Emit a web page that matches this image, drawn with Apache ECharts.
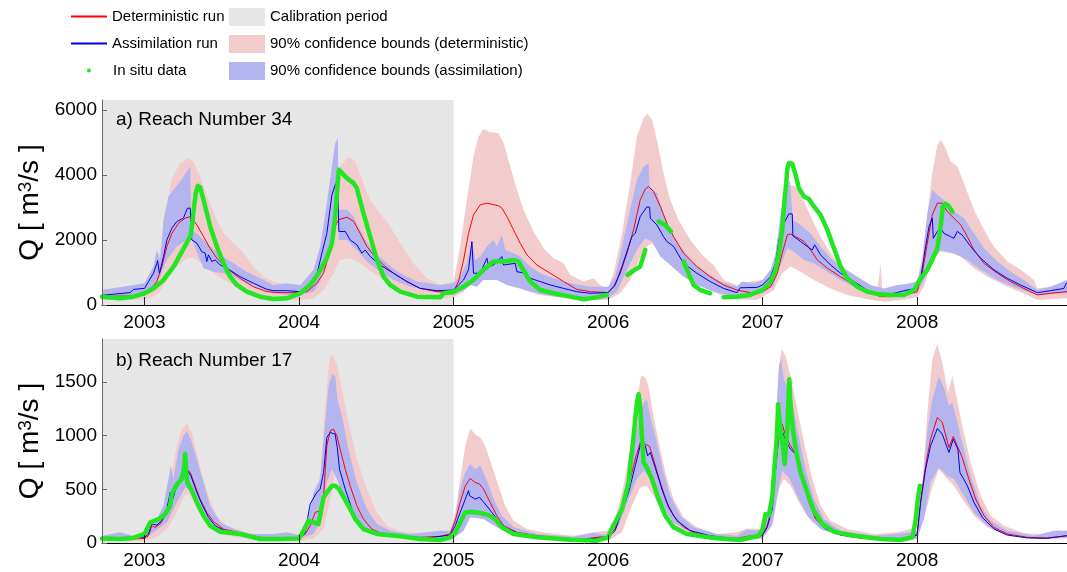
<!DOCTYPE html>
<html>
<head>
<meta charset="utf-8">
<script src="https://cdn.jsdelivr.net/npm/echarts@6/dist/echarts.min.js"></script>
<style>
html, body { margin: 0; padding: 0; background: #fff; }
#chart { width: 1067px; height: 572px; }
</style>
</head>
<body>
<div id="chart"></div>
<script>
// time axis in decimal years, discharge in m3/s
var yearTicks = [2003, 2004, 2005, 2006, 2007, 2008];
var qTicksA = [0, 2000, 4000, 6000];
var qTicksB = [0, 500, 1000, 1500];

/* a) Reach Number 34 */
var detA = [[2002.725,260],[2002.9,280],[2003.0,300],[2003.037,460],[2003.08,720],[2003.112,1180],[2003.145,1800],[2003.177,2200],[2003.22,2510],[2003.263,2670],[2003.3,2720],[2003.339,2460],[2003.382,2100],[2003.425,1740],[2003.468,1440],[2003.533,1130],[2003.619,820],[2003.705,560],[2003.792,410],[2003.878,380],[2003.964,380],[2004.051,410],[2004.115,670],[2004.159,975],[2004.202,1690],[2004.234,2410],[2004.256,2620],[2004.31,2700],[2004.353,2570],[2004.396,2200],[2004.439,1800],[2004.482,1540],[2004.547,1230],[2004.612,975],[2004.698,720],[2004.784,510],[2004.892,410],[2005.0,410],[2005.032,720],[2005.065,1385],[2005.097,2200],[2005.129,2770],[2005.173,3080],[2005.216,3130],[2005.291,3050],[2005.313,2975],[2005.345,2720],[2005.388,2310],[2005.431,1900],[2005.475,1540],[2005.539,1230],[2005.626,975],[2005.712,720],[2005.798,480],[2005.885,410],[2006.0,380],[2006.036,560],[2006.079,975],[2006.122,1590],[2006.165,2310],[2006.208,3230],[2006.241,3560],[2006.262,3640],[2006.294,3490],[2006.338,3030],[2006.381,2510],[2006.424,2100],[2006.489,1590],[2006.575,1180],[2006.661,870],[2006.748,615],[2006.834,460],[2006.922,380],[2007.0,410],[2007.052,560],[2007.095,975],[2007.127,1590],[2007.16,2150],[2007.181,2185],[2007.214,2100],[2007.268,1950],[2007.311,1690],[2007.354,1385],[2007.419,1130],[2007.505,870],[2007.591,615],[2007.677,410],[2007.764,256],[2007.828,256],[2007.915,310],[2008.0,410],[2008.033,975],[2008.066,1900],[2008.098,2770],[2008.131,3130],[2008.163,3130],[2008.195,2870],[2008.238,2670],[2008.282,2460],[2008.325,2100],[2008.368,1690],[2008.433,1280],[2008.519,975],[2008.605,720],[2008.691,510],[2008.778,310],[2008.864,360],[2008.97,410]];
var asmA = [[2002.725,300],[2002.907,380],[2002.929,480],[2003.0,510],[2003.026,720],[2003.058,975],[2003.08,1280],[2003.084,1365],[2003.097,975],[2003.123,1490],[2003.145,2000],[2003.177,2360],[2003.209,2565],[2003.252,2670],[2003.278,2975],[2003.296,2975],[2003.306,2000],[2003.339,1900],[2003.371,1640],[2003.393,1590],[2003.403,1335],[2003.414,1540],[2003.436,1335],[2003.457,1385],[2003.49,1230],[2003.533,1130],[2003.619,870],[2003.705,670],[2003.792,480],[2003.835,440],[2003.921,440],[2004.008,410],[2004.072,560],[2004.115,925],[2004.148,1590],[2004.18,2200],[2004.213,3385],[2004.234,3690],[2004.249,3800],[2004.258,2260],[2004.299,2260],[2004.331,2000],[2004.374,1850],[2004.407,1590],[2004.428,1690],[2004.461,1490],[2004.525,1230],[2004.612,975],[2004.698,720],[2004.784,510],[2004.892,440],[2005.0,460],[2005.032,615],[2005.065,770],[2005.097,1080],[2005.119,1950],[2005.129,975],[2005.173,975],[2005.216,1440],[2005.227,1180],[2005.259,1230],[2005.313,1490],[2005.324,1230],[2005.399,1280],[2005.41,1025],[2005.464,975],[2005.496,820],[2005.561,720],[2005.626,615],[2005.712,510],[2005.798,410],[2005.885,360],[2006.0,380],[2006.046,615],[2006.09,1180],[2006.133,1800],[2006.154,2100],[2006.176,2200],[2006.208,2720],[2006.251,3010],[2006.269,3010],[2006.273,2670],[2006.316,2460],[2006.359,2100],[2006.381,1950],[2006.424,1800],[2006.489,1280],[2006.575,975],[2006.661,720],[2006.748,510],[2006.834,380],[2006.855,530],[2006.963,540],[2007.0,615],[2007.052,870],[2007.084,1280],[2007.106,2000],[2007.138,2510],[2007.17,2800],[2007.192,2800],[2007.196,2125],[2007.246,1950],[2007.289,1800],[2007.321,1690],[2007.337,1850],[2007.375,1540],[2007.44,1230],[2007.505,975],[2007.591,720],[2007.677,460],[2007.764,310],[2007.85,360],[2007.936,460],[2008.0,510],[2008.023,820],[2008.055,1800],[2008.077,2410],[2008.098,2670],[2008.105,2050],[2008.131,2260],[2008.152,2360],[2008.174,2200],[2008.217,2100],[2008.238,2050],[2008.26,2260],[2008.292,2150],[2008.346,1800],[2008.411,1440],[2008.497,1080],[2008.584,820],[2008.67,615],[2008.778,380],[2008.864,440],[2008.95,510],[2008.965,670],[2008.97,670]];
var detUpA = [[2002.725,410],[2003.0,510],[2003.058,770],[2003.101,1690],[2003.145,3030],[2003.177,3900],[2003.231,4360],[2003.285,4515],[2003.317,4410],[2003.36,3950],[2003.403,3385],[2003.457,2720],[2003.511,2200],[2003.576,1900],[2003.641,1590],[2003.705,1180],[2003.77,870],[2003.835,720],[2003.921,615],[2004.008,615],[2004.072,720],[2004.137,1385],[2004.18,2410],[2004.223,3640],[2004.266,4260],[2004.32,4545],[2004.364,4410],[2004.417,3745],[2004.461,3230],[2004.525,2820],[2004.59,2410],[2004.655,1900],[2004.741,1280],[2004.827,820],[2004.914,615],[2005.0,720],[2005.043,1800],[2005.086,3230],[2005.129,4565],[2005.162,5180],[2005.194,5410],[2005.237,5315],[2005.291,5280],[2005.324,4975],[2005.367,4260],[2005.41,3540],[2005.453,2925],[2005.518,2260],[2005.583,1745],[2005.647,1440],[2005.712,1280],[2005.755,925],[2005.841,720],[2005.906,820],[2005.949,615],[2006.0,510],[2006.036,975],[2006.09,2200],[2006.143,3745],[2006.187,5180],[2006.23,5745],[2006.256,5880],[2006.284,5695],[2006.316,5080],[2006.359,4050],[2006.402,3230],[2006.456,2615],[2006.532,2000],[2006.618,1490],[2006.683,1230],[2006.748,770],[2006.834,615],[2006.92,720],[2007.0,770],[2007.073,1080],[2007.117,2310],[2007.149,3230],[2007.181,3690],[2007.214,3640],[2007.257,3285],[2007.311,2720],[2007.375,2100],[2007.44,1590],[2007.505,1180],[2007.591,820],[2007.677,670],[2007.742,410],[2007.764,1280],[2007.775,410],[2007.828,510],[2007.915,615],[2008.0,720],[2008.033,1490],[2008.066,2720],[2008.098,4050],[2008.131,4925],[2008.152,5080],[2008.184,4820],[2008.217,4410],[2008.26,4260],[2008.303,3745],[2008.368,2925],[2008.433,2310],[2008.497,1800],[2008.584,1335],[2008.67,1080],[2008.756,770],[2008.778,510],[2008.864,560],[2008.97,615]];
var detLoA = [[2002.725,150],[2003.0,175],[2003.058,256],[2003.101,410],[2003.145,770],[2003.209,1180],[2003.274,1440],[2003.317,1470],[2003.382,1230],[2003.447,975],[2003.533,720],[2003.619,460],[2003.705,310],[2003.792,205],[2003.921,150],[2004.008,150],[2004.094,205],[2004.159,460],[2004.223,975],[2004.266,1385],[2004.331,1440],[2004.396,1280],[2004.482,975],[2004.569,720],[2004.655,460],[2004.763,256],[2004.892,175],[2005.0,235],[2005.065,410],[2005.129,720],[2005.194,870],[2005.28,870],[2005.367,670],[2005.453,460],[2005.561,310],[2005.712,205],[2005.885,150],[2006.0,150],[2006.079,360],[2006.143,770],[2006.208,1440],[2006.251,1800],[2006.284,1900],[2006.359,1690],[2006.424,1280],[2006.51,870],[2006.618,560],[2006.726,310],[2006.834,175],[2006.963,150],[2007.0,256],[2007.073,460],[2007.127,975],[2007.181,1180],[2007.246,1025],[2007.332,770],[2007.44,510],[2007.548,310],[2007.677,175],[2007.785,100],[2007.893,150],[2008.0,235],[2008.044,560],[2008.098,1385],[2008.152,1640],[2008.217,1590],[2008.282,1490],[2008.368,1130],[2008.454,870],[2008.584,560],[2008.713,310],[2008.778,150],[2008.97,205]];
var asmUpA = [[2002.725,460],[2002.929,615],[2003.0,670],[2003.058,1180],[2003.08,1690],[2003.101,1385],[2003.123,2615],[2003.155,3335],[2003.188,3540],[2003.231,3800],[2003.274,4100],[2003.296,4260],[2003.304,2310],[2003.339,2200],[2003.382,2000],[2003.425,1800],[2003.49,1540],[2003.576,1280],[2003.662,1025],[2003.749,820],[2003.835,615],[2003.921,670],[2004.008,615],[2004.094,1080],[2004.137,1800],[2004.18,3130],[2004.213,4260],[2004.234,4975],[2004.251,5130],[2004.258,2925],[2004.31,2925],[2004.353,2720],[2004.417,2100],[2004.482,1640],[2004.569,1280],[2004.655,975],[2004.763,720],[2004.914,615],[2005.0,670],[2005.043,870],[2005.086,1280],[2005.119,1950],[2005.14,1385],[2005.173,1490],[2005.216,1800],[2005.259,2000],[2005.28,1800],[2005.313,2150],[2005.334,1690],[2005.388,1590],[2005.431,1490],[2005.496,1180],[2005.561,975],[2005.647,820],[2005.755,670],[2005.885,560],[2006.0,560],[2006.046,870],[2006.1,2000],[2006.143,2925],[2006.187,3850],[2006.23,4260],[2006.262,4360],[2006.269,3640],[2006.316,3440],[2006.359,2820],[2006.402,2310],[2006.467,1800],[2006.553,1280],[2006.64,975],[2006.726,720],[2006.834,560],[2006.866,720],[2006.944,670],[2007.0,770],[2007.052,1080],[2007.084,1590],[2007.117,2820],[2007.149,3440],[2007.177,3850],[2007.196,2615],[2007.246,2460],[2007.311,2200],[2007.375,1800],[2007.44,1440],[2007.526,1130],[2007.613,870],[2007.699,615],[2007.785,510],[2007.872,615],[2007.958,670],[2008.0,720],[2008.033,1280],[2008.066,2820],[2008.098,3540],[2008.131,3385],[2008.174,3230],[2008.238,2870],[2008.303,2670],[2008.368,2200],[2008.433,1745],[2008.519,1335],[2008.605,1025],[2008.691,770],[2008.778,460],[2008.864,560],[2008.97,770]];
var asmLoA = [[2002.725,205],[2003.0,310],[2003.058,560],[2003.101,870],[2003.145,1385],[2003.209,1800],[2003.274,2000],[2003.3,2100],[2003.339,1640],[2003.382,1130],[2003.447,1025],[2003.511,975],[2003.576,870],[2003.662,670],[2003.749,510],[2003.835,360],[2003.921,310],[2004.008,310],[2004.094,410],[2004.137,720],[2004.18,1280],[2004.223,2410],[2004.249,2925],[2004.258,2000],[2004.31,2000],[2004.374,1690],[2004.439,1335],[2004.525,1025],[2004.612,770],[2004.72,560],[2004.914,360],[2005.0,310],[2005.065,460],[2005.108,615],[2005.151,560],[2005.194,770],[2005.28,770],[2005.345,615],[2005.431,510],[2005.539,360],[2005.669,256],[2005.841,175],[2006.0,205],[2006.057,410],[2006.122,1080],[2006.187,1690],[2006.241,2050],[2006.284,1950],[2006.338,1490],[2006.402,1230],[2006.489,870],[2006.575,615],[2006.683,410],[2006.834,256],[2006.963,360],[2007.0,360],[2007.073,615],[2007.117,1230],[2007.16,1745],[2007.203,1640],[2007.268,1385],[2007.332,1280],[2007.419,1025],[2007.505,770],[2007.613,510],[2007.721,310],[2007.828,235],[2007.936,310],[2008.0,360],[2008.044,770],[2008.087,1385],[2008.152,1690],[2008.238,1590],[2008.325,1385],[2008.411,1080],[2008.519,770],[2008.648,510],[2008.778,310],[2008.97,360]];
var obsA = [[2002.725,256],[2002.842,205],[2002.929,256],[2003.0,360],[2003.058,510],[2003.123,770],[2003.188,1180],[2003.242,1640],[2003.278,1950],[2003.3,2150],[2003.309,2510],[2003.321,3030],[2003.332,3440],[2003.345,3660],[2003.36,3620],[2003.382,3230],[2003.425,2410],[2003.468,1800],[2003.511,1280],[2003.554,870],[2003.598,615],[2003.662,410],[2003.749,256],[2003.835,185],[2003.921,205],[2004.008,360],[2004.072,615],[2004.126,975],[2004.18,1440],[2004.213,1900],[2004.223,2260],[2004.236,2820],[2004.249,3640],[2004.258,4155],[2004.266,4175],[2004.31,3900],[2004.353,3745],[2004.374,3590],[2004.417,2820],[2004.461,2100],[2004.504,1385],[2004.547,870],[2004.59,615],[2004.655,410],[2004.763,256],[2004.914,235],[2004.935,360],[2005.0,410],[2005.065,560],[2005.129,770],[2005.194,1080],[2005.259,1335],[2005.324,1335],[2005.388,1385],[2005.421,1335],[2005.464,975],[2005.496,720],[2005.561,460],[2005.647,360],[2005.755,256],[2005.841,175],[2005.928,235],[2005.992,310],[2006.05,'-'],[2006.126,925],[2006.165,1055],[2006.208,1180],[2006.241,1690],[2006.29,'-'],[2006.327,2565],[2006.37,2460],[2006.407,2260],[2006.45,'-'],[2006.489,1335],[2006.521,975],[2006.553,615],[2006.597,460],[2006.661,360],[2006.7,'-'],[2006.748,235],[2006.834,256],[2006.92,310],[2006.944,360],[2007.0,460],[2007.052,720],[2007.084,1080],[2007.106,1590],[2007.127,2310],[2007.142,3230],[2007.153,3745],[2007.16,4200],[2007.17,4360],[2007.192,4340],[2007.214,4000],[2007.235,3590],[2007.268,3335],[2007.3,3260],[2007.332,3030],[2007.375,2770],[2007.419,2310],[2007.462,1745],[2007.505,1180],[2007.548,820],[2007.613,560],[2007.677,410],[2007.742,340],[2007.828,310],[2007.915,310],[2007.98,460],[2008.023,820],[2008.066,1080],[2008.098,1385],[2008.131,1745],[2008.152,2410],[2008.167,3030],[2008.184,3110],[2008.206,3030],[2008.228,2870]];

/* b) Reach Number 17 */
var detB = [[2002.725,43],[2002.929,37],[2003.0,43],[2003.026,68],[2003.047,161],[2003.069,146],[2003.101,177],[2003.134,254],[2003.155,332],[2003.177,409],[2003.198,487],[2003.231,595],[2003.27,688],[2003.296,657],[2003.328,533],[2003.36,409],[2003.403,285],[2003.447,198],[2003.511,130],[2003.619,93],[2003.749,53],[2003.878,43],[2004.001,43],[2004.04,84],[2004.072,161],[2004.105,285],[2004.137,301],[2004.159,440],[2004.18,905],[2004.202,1045],[2004.223,1060],[2004.245,998],[2004.266,874],[2004.299,688],[2004.331,533],[2004.374,347],[2004.417,223],[2004.471,130],[2004.525,93],[2004.655,68],[2004.784,53],[2004.914,62],[2004.978,84],[2005.011,208],[2005.043,378],[2005.076,533],[2005.108,601],[2005.14,564],[2005.168,549],[2005.194,502],[2005.237,378],[2005.28,254],[2005.324,161],[2005.41,99],[2005.539,68],[2005.712,43],[2005.841,37],[2005.928,53],[2006.0,62],[2006.046,130],[2006.09,347],[2006.133,533],[2006.176,781],[2006.213,958],[2006.241,921],[2006.269,899],[2006.294,781],[2006.338,564],[2006.381,378],[2006.424,254],[2006.489,146],[2006.575,84],[2006.704,53],[2006.834,43],[2006.92,68],[2006.965,68],[2007.0,84],[2007.03,161],[2007.063,347],[2007.084,688],[2007.106,1045],[2007.127,1107],[2007.149,998],[2007.181,905],[2007.214,828],[2007.257,595],[2007.3,378],[2007.343,223],[2007.397,146],[2007.483,84],[2007.613,53],[2007.764,31],[2007.893,37],[2007.958,53],[2008.0,84],[2008.023,409],[2008.055,719],[2008.087,967],[2008.131,1169],[2008.163,1122],[2008.206,890],[2008.234,992],[2008.26,905],[2008.292,797],[2008.335,595],[2008.379,409],[2008.433,254],[2008.497,146],[2008.584,84],[2008.713,53],[2008.842,47],[2008.97,68]];
var asmB = [[2002.725,43],[2003.0,53],[2003.026,84],[2003.047,177],[2003.08,167],[2003.112,208],[2003.145,316],[2003.166,471],[2003.183,409],[2003.209,533],[2003.242,642],[2003.27,694],[2003.3,626],[2003.339,471],[2003.371,363],[2003.414,239],[2003.457,161],[2003.533,105],[2003.662,68],[2003.792,43],[2004.001,43],[2004.04,99],[2004.072,363],[2004.115,471],[2004.137,502],[2004.159,657],[2004.18,983],[2004.202,1029],[2004.234,1014],[2004.249,874],[2004.262,688],[2004.299,502],[2004.342,316],[2004.385,177],[2004.439,115],[2004.525,74],[2004.655,53],[2004.784,37],[2004.914,62],[2004.978,74],[2005.011,161],[2005.043,285],[2005.076,409],[2005.097,487],[2005.104,440],[2005.14,409],[2005.168,425],[2005.205,363],[2005.248,285],[2005.291,208],[2005.334,146],[2005.41,93],[2005.539,62],[2005.712,43],[2005.863,37],[2006.0,53],[2006.046,115],[2006.09,301],[2006.133,471],[2006.176,719],[2006.213,936],[2006.241,905],[2006.256,812],[2006.273,843],[2006.305,704],[2006.348,502],[2006.392,332],[2006.446,208],[2006.532,115],[2006.661,68],[2006.834,37],[2006.985,62],[2007.0,74],[2007.03,146],[2007.063,316],[2007.084,688],[2007.106,998],[2007.127,1045],[2007.149,952],[2007.181,874],[2007.214,828],[2007.257,595],[2007.3,409],[2007.343,239],[2007.408,130],[2007.505,74],[2007.634,47],[2007.785,28],[2007.936,43],[2008.0,74],[2008.023,378],[2008.055,688],[2008.087,905],[2008.131,1066],[2008.163,1014],[2008.206,843],[2008.234,967],[2008.264,874],[2008.277,657],[2008.325,533],[2008.368,378],[2008.422,239],[2008.497,130],[2008.584,74],[2008.713,47],[2008.842,43],[2008.97,68]];
var detUpB = [[2002.725,53],[2003.0,68],[2003.058,130],[2003.123,316],[2003.166,564],[2003.209,905],[2003.242,1060],[2003.274,1116],[2003.306,1029],[2003.339,843],[2003.371,642],[2003.414,440],[2003.468,254],[2003.533,161],[2003.662,99],[2003.792,68],[2003.921,84],[2004.001,84],[2004.051,161],[2004.094,316],[2004.137,657],[2004.169,1277],[2004.197,1711],[2004.217,1758],[2004.245,1665],[2004.277,1432],[2004.32,1122],[2004.374,781],[2004.439,502],[2004.504,285],[2004.569,161],[2004.655,105],[2004.784,84],[2004.914,115],[2004.978,115],[2005.011,285],[2005.043,595],[2005.076,905],[2005.108,1066],[2005.14,1014],[2005.173,983],[2005.205,905],[2005.248,719],[2005.291,533],[2005.334,347],[2005.388,208],[2005.475,130],[2005.604,93],[2005.777,68],[2005.906,99],[2006.0,115],[2006.046,223],[2006.1,533],[2006.154,967],[2006.187,1339],[2006.215,1562],[2006.241,1540],[2006.262,1463],[2006.294,1184],[2006.338,874],[2006.381,595],[2006.424,409],[2006.489,239],[2006.575,146],[2006.704,84],[2006.834,99],[2006.899,136],[2006.985,130],[2007.0,161],[2007.052,409],[2007.084,1122],[2007.106,1649],[2007.123,1804],[2007.149,1742],[2007.181,1556],[2007.224,1246],[2007.268,936],[2007.321,595],[2007.375,347],[2007.44,208],[2007.548,130],[2007.721,84],[2007.872,99],[2007.958,130],[2008.0,115],[2008.033,533],[2008.066,1215],[2008.098,1711],[2008.131,1851],[2008.163,1680],[2008.2,1401],[2008.228,1556],[2008.26,1324],[2008.292,1091],[2008.346,750],[2008.411,440],[2008.476,254],[2008.562,161],[2008.691,93],[2008.842,74],[2008.907,115],[2008.97,115]];
var detLoB = [[2002.725,22],[2003.0,22],[2003.08,53],[2003.145,130],[2003.209,285],[2003.263,456],[2003.296,440],[2003.339,316],[2003.403,177],[2003.49,84],[2003.619,47],[2003.792,28],[2004.001,22],[2004.094,43],[2004.159,130],[2004.202,409],[2004.234,657],[2004.266,595],[2004.31,440],[2004.374,254],[2004.461,130],[2004.569,68],[2004.784,28],[2004.914,28],[2005.0,37],[2005.065,130],[2005.108,239],[2005.194,239],[2005.28,161],[2005.388,84],[2005.604,37],[2006.0,22],[2006.09,99],[2006.154,347],[2006.208,518],[2006.251,533],[2006.294,440],[2006.359,270],[2006.446,146],[2006.575,68],[2006.791,28],[2006.985,37],[2007.0,43],[2007.063,161],[2007.106,502],[2007.138,595],[2007.181,533],[2007.235,378],[2007.311,208],[2007.397,115],[2007.548,53],[2007.828,22],[2008.0,37],[2008.055,285],[2008.098,518],[2008.141,688],[2008.195,595],[2008.238,533],[2008.292,409],[2008.368,254],[2008.454,146],[2008.584,68],[2008.799,37],[2008.97,43]];
var asmUpB = [[2002.725,68],[2002.842,99],[2002.929,68],[2003.0,84],[2003.058,161],[2003.123,347],[2003.155,595],[2003.17,719],[2003.188,595],[2003.22,874],[2003.252,998],[2003.274,1045],[2003.3,967],[2003.339,781],[2003.382,564],[2003.425,347],[2003.49,192],[2003.576,130],[2003.684,84],[2003.835,84],[2003.921,99],[2004.001,74],[2004.051,161],[2004.094,471],[2004.137,595],[2004.165,1060],[2004.191,1463],[2004.213,1572],[2004.234,1556],[2004.249,1339],[2004.277,1184],[2004.32,874],[2004.374,564],[2004.439,316],[2004.504,177],[2004.59,115],[2004.72,84],[2004.914,115],[2004.978,115],[2005.011,239],[2005.043,502],[2005.076,657],[2005.108,735],[2005.14,688],[2005.173,719],[2005.216,580],[2005.259,409],[2005.313,254],[2005.388,146],[2005.539,84],[2005.777,59],[2005.906,93],[2006.0,74],[2006.046,161],[2006.1,440],[2006.154,781],[2006.197,1153],[2006.23,1308],[2006.251,1339],[2006.273,1184],[2006.316,936],[2006.359,657],[2006.402,440],[2006.467,254],[2006.553,146],[2006.704,84],[2006.834,68],[2006.899,124],[2007.0,115],[2007.009,136],[2007.052,347],[2007.084,1029],[2007.106,1649],[2007.121,1711],[2007.138,1525],[2007.181,1401],[2007.224,1060],[2007.278,688],[2007.332,409],[2007.397,223],[2007.505,115],[2007.721,68],[2007.872,84],[2007.958,99],[2008.0,93],[2008.033,471],[2008.066,1029],[2008.098,1339],[2008.141,1556],[2008.178,1432],[2008.206,1277],[2008.228,1308],[2008.26,1122],[2008.292,936],[2008.346,626],[2008.411,347],[2008.476,208],[2008.584,115],[2008.756,68],[2008.886,115],[2008.97,115]];
var asmLoB = [[2002.725,28],[2003.0,37],[2003.058,99],[2003.145,192],[2003.209,378],[2003.263,518],[2003.306,487],[2003.36,347],[2003.425,192],[2003.511,99],[2003.684,53],[2004.001,43],[2004.094,84],[2004.148,223],[2004.18,564],[2004.213,688],[2004.245,595],[2004.288,409],[2004.353,239],[2004.439,130],[2004.569,74],[2004.914,47],[2005.0,43],[2005.065,115],[2005.108,239],[2005.194,223],[2005.28,146],[2005.388,74],[2005.604,37],[2006.0,37],[2006.068,161],[2006.133,409],[2006.187,595],[2006.23,673],[2006.273,595],[2006.338,378],[2006.424,192],[2006.553,84],[2006.791,37],[2006.985,47],[2007.0,43],[2007.063,177],[2007.095,440],[2007.127,673],[2007.17,611],[2007.224,440],[2007.289,254],[2007.375,130],[2007.505,68],[2007.828,28],[2008.0,43],[2008.044,223],[2008.087,564],[2008.141,704],[2008.195,626],[2008.238,595],[2008.303,440],[2008.368,285],[2008.454,161],[2008.584,74],[2008.799,43],[2008.97,53]];
var obsB = [[2002.725,43],[2002.842,37],[2002.929,47],[2003.0,84],[2003.037,192],[2003.069,208],[2003.101,229],[2003.134,270],[2003.166,347],[2003.177,456],[2003.198,518],[2003.22,564],[2003.242,595],[2003.257,704],[2003.263,828],[2003.27,657],[2003.278,564],[2003.306,487],[2003.339,378],[2003.382,254],[2003.425,161],[2003.49,105],[2003.619,84],[2003.749,37],[2003.878,37],[2004.001,43],[2004.029,115],[2004.061,208],[2004.094,192],[2004.126,177],[2004.148,347],[2004.159,425],[2004.18,471],[2004.213,533],[2004.234,533],[2004.256,508],[2004.277,456],[2004.32,347],[2004.364,223],[2004.417,130],[2004.504,84],[2004.655,62],[2004.784,37],[2004.914,28],[2004.978,53],[2005.011,99],[2005.043,192],[2005.076,285],[2005.119,291],[2005.173,279],[2005.227,260],[2005.27,223],[2005.313,146],[2005.388,84],[2005.539,53],[2005.755,31],[2005.928,22],[2006.0,53],[2006.025,136],[2006.057,223],[2006.09,316],[2006.111,440],[2006.133,564],[2006.143,719],[2006.161,936],[2006.176,1153],[2006.187,1308],[2006.197,1386],[2006.208,1277],[2006.219,998],[2006.23,750],[2006.251,704],[2006.284,595],[2006.327,409],[2006.37,254],[2006.424,146],[2006.51,84],[2006.683,47],[2006.855,28],[2006.976,68],[2007.0,130],[2007.019,270],[2007.041,254],[2007.063,440],[2007.078,719],[2007.091,967],[2007.101,1293],[2007.112,1107],[2007.121,998],[2007.134,874],[2007.142,735],[2007.16,1060],[2007.173,1525],[2007.181,1277],[2007.196,1060],[2007.214,874],[2007.246,657],[2007.289,471],[2007.332,301],[2007.386,177],[2007.462,105],[2007.591,68],[2007.764,37],[2007.893,28],[2007.969,53],[2007.99,208],[2008.005,409],[2008.018,533]];

var T_MIN = 2002.725, T_MAX = 2008.97, CALIB_END = 2005;
var FONT = 'Liberation Sans';

var C_DET = '#ff0000', C_ASM = '#0000e6', C_OBS = '#22e622';
var C_DETBAND = '#f2cccc', C_ASMBAND = '#b4b4ef', C_CAL = '#e6e6e6';

var N_DET = 'Deterministic run', N_ASM = 'Assimilation run', N_OBS = 'In situ data';
var N_CAL = 'Calibration period';
var N_DETB = '90% confidence bounds (deterministic)';
var N_ASMB = '90% confidence bounds (assimilation)';

function band(name, up, lo, color, k) {
    return {
        type: 'custom', name: name, xAxisIndex: k, yAxisIndex: k,
        data: [[CALIB_END, 0]], clip: true, silent: true, z: 2,
        itemStyle: { color: color },
        renderItem: function (params, api) {
            var pts = [];
            up.forEach(function (p) { pts.push(api.coord(p)); });
            lo.slice().reverse().forEach(function (p) { pts.push(api.coord(p)); });
            return { type: 'polygon', shape: { points: pts }, style: { fill: color } };
        }
    };
}

function run(name, data, color, width, k, z) {
    return {
        type: 'line', name: name, xAxisIndex: k, yAxisIndex: k, data: data,
        symbol: 'none', silent: true, z: z, clip: true,
        itemStyle: { color: color },
        lineStyle: { color: color, width: width, cap: 'round', join: 'round' }
    };
}

function calib(k) {
    return {
        type: 'line', name: N_CAL, xAxisIndex: k, yAxisIndex: k, data: [],
        symbol: 'none', z: 1, itemStyle: { color: C_CAL }, lineStyle: { color: C_CAL },
        markArea: { silent: true, itemStyle: { color: C_CAL }, data: [[{ xAxis: T_MIN }, { xAxis: CALIB_END }]] }
    };
}

function xAxisFor(k) {
    return {
        gridIndex: k, type: 'value', min: T_MIN, max: T_MAX, z: 5,
        axisLine: { onZero: false, lineStyle: { color: '#000', width: 1 } },
        axisTick: { inside: true, length: 8, customValues: yearTicks, lineStyle: { color: '#222' } },
        axisLabel: { customValues: yearTicks, fontSize: 19, fontFamily: FONT, color: '#000', margin: 8,
            formatter: function (v) { return String(v); } },
        splitLine: { show: false }
    };
}

function yAxisFor(k, max, ticks) {
    return {
        gridIndex: k, type: 'value', min: 0, max: max, z: 5,
        name: '{n|Q [ m}{s|3}{n|/s ]}', nameLocation: 'middle', nameGap: 47,
        nameTextStyle: {
            color: '#000', fontFamily: FONT,
            rich: {
                n: { fontSize: 28, fontFamily: FONT, color: '#000' },
                s: { fontSize: 19, fontFamily: FONT, color: '#000', verticalAlign: 'top' }
            }
        },
        axisLine: { show: true, lineStyle: { color: '#666' } },
        axisTick: { inside: true, length: 5, customValues: ticks, lineStyle: { color: '#666' } },
        axisLabel: { customValues: ticks, fontSize: 19, fontFamily: FONT, color: '#000', margin: 5,
            formatter: function (v) { return String(v); } },
        splitLine: { show: false }
    };
}

// one legend block per entry so each row sits where the reference puts it
function legendRow(name, icon, left, top, w, h, textPad) {
    return {
        data: [{ name: name, icon: icon }], left: left, top: top, padding: 0,
        itemWidth: w, itemHeight: h, selectedMode: false,
        textStyle: { fontSize: 15, fontFamily: FONT, color: '#000', overflow: 'none',
            padding: [0, 0, 0, textPad || 0] }
    };
}

var chart = echarts.init(document.getElementById('chart'), null, { renderer: 'canvas' });
chart.setOption({
    animation: false,
    backgroundColor: '#fff',
    textStyle: { fontFamily: FONT },
    title: [
        { text: 'a) Reach Number 34', left: 116, top: 110, padding: 0, textStyle: { fontSize: 19, fontWeight: 'normal', fontFamily: FONT, color: '#000' } },
        { text: 'b) Reach Number 17', left: 116, top: 351, padding: 0, textStyle: { fontSize: 19, fontWeight: 'normal', fontFamily: FONT, color: '#000' } }
    ],
    legend: [
        legendRow(N_DET, 'rect', 71, 9, 36, 2),
        legendRow(N_ASM, 'rect', 71, 36, 36, 2),
        legendRow(N_OBS, 'circle', 87, 63, 4, 4, 17),
        legendRow(N_CAL, 'rect', 229, 8, 36, 18),
        legendRow(N_DETB, 'rect', 229, 35, 36, 18),
        legendRow(N_ASMB, 'rect', 229, 62, 36, 18)
    ],
    grid: [
        { left: 102, right: 0, top: 100, height: 205 },
        { left: 102, right: 0, top: 339, height: 204 }
    ],
    xAxis: [xAxisFor(0), xAxisFor(1)],
    yAxis: [yAxisFor(0, 6300, qTicksA), yAxisFor(1, 1900, qTicksB)],
    series: [
        calib(0),
        band(N_DETB, detUpA, detLoA, C_DETBAND, 0),
        band(N_ASMB, asmUpA, asmLoA, C_ASMBAND, 0),
        run(N_DET, detA, C_DET, 1, 0, 3),
        run(N_ASM, asmA, C_ASM, 1, 0, 3),
        run(N_OBS, obsA, C_OBS, 4.5, 0, 4),
        calib(1),
        band(N_DETB, detUpB, detLoB, C_DETBAND, 1),
        band(N_ASMB, asmUpB, asmLoB, C_ASMBAND, 1),
        run(N_DET, detB, C_DET, 1, 1, 3),
        run(N_ASM, asmB, C_ASM, 1, 1, 3),
        run(N_OBS, obsB, C_OBS, 4.5, 1, 4)
    ]
});
</script>
</body>
</html>
